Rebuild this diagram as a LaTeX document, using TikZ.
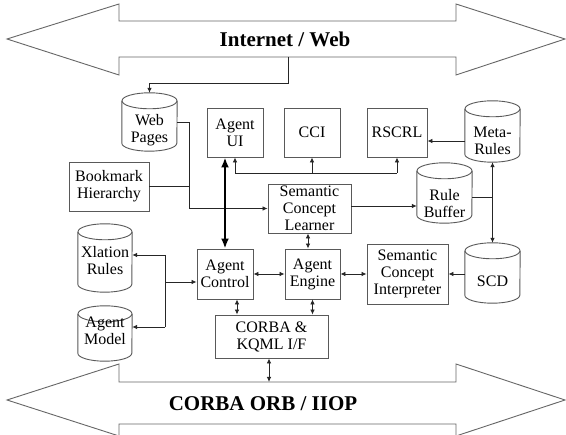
\documentclass[tikz,border=0pt]{standalone}
\usepackage{fontspec}
\setmainfont{Liberation Serif}
\usetikzlibrary{arrows.meta,calc}
\newcommand\mycyl[7]{%
 \node[cylbox, minimum width=#4pt, minimum height=#5pt] (#1) at (#2,-#3) {};
 \draw[cylline] ([yshift=-8pt]#1.north west) -- ([yshift=8pt]#1.south west)
   arc[start angle=180, end angle=360, x radius=#4pt/2, y radius=8pt]
   -- ([yshift=-8pt]#1.north east);
 \draw[cylline] ([yshift=-8pt]#1.north) ellipse[x radius=#4pt/2, y radius=8pt];
 \node[cyltxt] (#1-t) at (#2,-#6) {#7};
}
\begin{document}
\begin{tikzpicture}[x=1pt,y=1pt,
 box/.style={draw=black!65, line width=0.9pt, inner sep=0pt, align=center, font=\fontsize{16}{17}\selectfont},
 cylbox/.style={inner sep=0pt},
 cyltxt/.style={inner sep=0pt, align=center, font=\fontsize{16}{17}\selectfont},
 cylline/.style={draw=black!65, line width=0.9pt},
 bus/.style={draw=black!60, line width=0.9pt},
 conn/.style={draw=black!85, line width=0.8pt},
 tip/.style={-{Latex[length=5pt,width=4.5pt]}},
 tips/.style={{Latex[length=5pt,width=4.5pt]}-{Latex[length=5pt,width=4.5pt]}},
 thickarr/.style={draw=black, line width=2pt, {Latex[length=10pt,width=8pt]}-{Latex[length=10pt,width=8pt]}},
 big/.style={inner sep=0pt, font=\fontsize{21}{24}\selectfont\bfseries}
]
\useasboundingbox (0,0) rectangle (566,-435);
\clip (0,0) rectangle (566,-435);
\fill[white] (0,0) rectangle (566,-435);

% big arrows
\draw[bus] (7,-39) -- (119,-4) -- (119,-21) -- (456,-21) -- (456,-4) -- (565,-39)
  -- (456,-75) -- (456,-57) -- (119,-57) -- (119,-75) -- cycle;
\node[big] (web) at (285,-39) {Internet / Web};
\draw[bus] (7,-400) -- (119,-364) -- (119,-382) -- (456,-382) -- (456,-364) -- (565,-400)
  -- (456,-436) -- (456,-424) -- (119,-424) -- (119,-436) -- cycle;
\node[big] (orb) at (263,-404) {CORBA ORB / IIOP};
\coordinate (webbot) at (288,-57);
\coordinate (orbtop) at (269,-382);

% boxes
\node[box, minimum width=56pt, minimum height=49pt] (agentui) at (235,-132.5) {Agent\\UI};
\node[box, minimum width=56pt, minimum height=49pt] (cci) at (312,-132.5) {CCI};
\node[box, minimum width=60pt, minimum height=49pt] (rscrl) at (397,-132.5) {RSCRL};
\node[box, minimum width=80pt, minimum height=49pt] (bookmark) at (109,-186.5) {Bookmark\\Hierarchy};
\node[box, minimum width=83pt, minimum height=49pt] (learner) at (309.5,-208.5) {Semantic\\Concept\\Learner};
\node[box, minimum width=56pt, minimum height=50pt] (control) at (225,-274) {Agent\\Control};
\node[box, minimum width=55pt, minimum height=50pt] (engine) at (312.5,-274) {Agent\\Engine};
\node[box, minimum width=81pt, minimum height=60pt] (interp) at (407.5,-274) {Semantic\\Concept\\Interpreter};
\node[box, minimum width=113pt, minimum height=43pt] (corba) at (271.5,-336.5) {CORBA \&\\KQML I/F};

% cylinders
\mycyl{webpages}{149.5}{122}{55}{58}{130.5}{Web\\Pages}
\mycyl{metarules}{492.5}{131.5}{55}{61}{141}{Meta-\\Rules}
\mycyl{rulebuffer}{444.5}{193}{55}{60}{203.5}{Rule\\Buffer}
\mycyl{xlation}{105}{258}{54}{68}{261}{Xlation\\Rules}
\mycyl{model}{105}{333.5}{54}{55}{331}{Agent\\Model}
\mycyl{scd}{492.5}{273}{55}{60}{281}{SCD}

% connectors
\draw[conn,tip] (webbot) -- (288,-83) -| (webpages.north);
\draw[conn,tip] (webpages.east) -- (189,-122) |- (learner.west);
\draw[conn] (bookmark.east) -- (189,-186.5);
\draw[thickarr] (control.north) -- (control.north |- agentui.south);
\coordinate (busL) at (235,-173);
\coordinate (busR) at (397,-173);
\draw[conn] (busL) -- (busR);
\draw[conn,tip] (busL) -- (agentui.south);
\draw[conn,tip] (cci.south |- busL) -- (cci.south);
\draw[conn,tip] (busR) -- (rscrl.south);
\draw[conn,tip] (metarules.west |- 0,-141) -- (rscrl.east |- 0,-141);
\draw[conn,tip] (learner.east |- 0,-206) -- (rulebuffer.west |- 0,-206);
\draw[conn] (rulebuffer.east |- 0,-197) -- (492.5,-197);
\draw[conn,tips] (metarules.south) -- (scd.north);
\draw[conn,tip] (scd.west |- interp.east) -- (interp.east);
\draw[conn,tips] (engine.east) -- (interp.west);
\draw[conn,tips] (control.east) -- (engine.west);
\coordinate (x308) at (308,0);
\draw[conn,tips] (learner.south -| x308) -- (engine.north -| x308);
\draw[conn,tips] ([xshift=12pt]control.south) -- ([xshift=12pt]control.south |- corba.north);
\draw[conn,tips] (engine.south) -- (engine.south |- corba.north);
\draw[conn,tips] (corba.south -| orbtop) -- (orbtop);
\coordinate (lb1) at (165,-255);
\coordinate (lb2) at (165,-327);
\draw[conn] (lb1) -- (lb2);
\draw[conn,tip] (lb1) -- (xlation.east |- lb1);
\draw[conn,tip] (lb2) -- (model.east |- lb2);
\draw[conn,tip] (165,-282) -- (control.west |- 0,-282);
\end{tikzpicture}
\end{document}
